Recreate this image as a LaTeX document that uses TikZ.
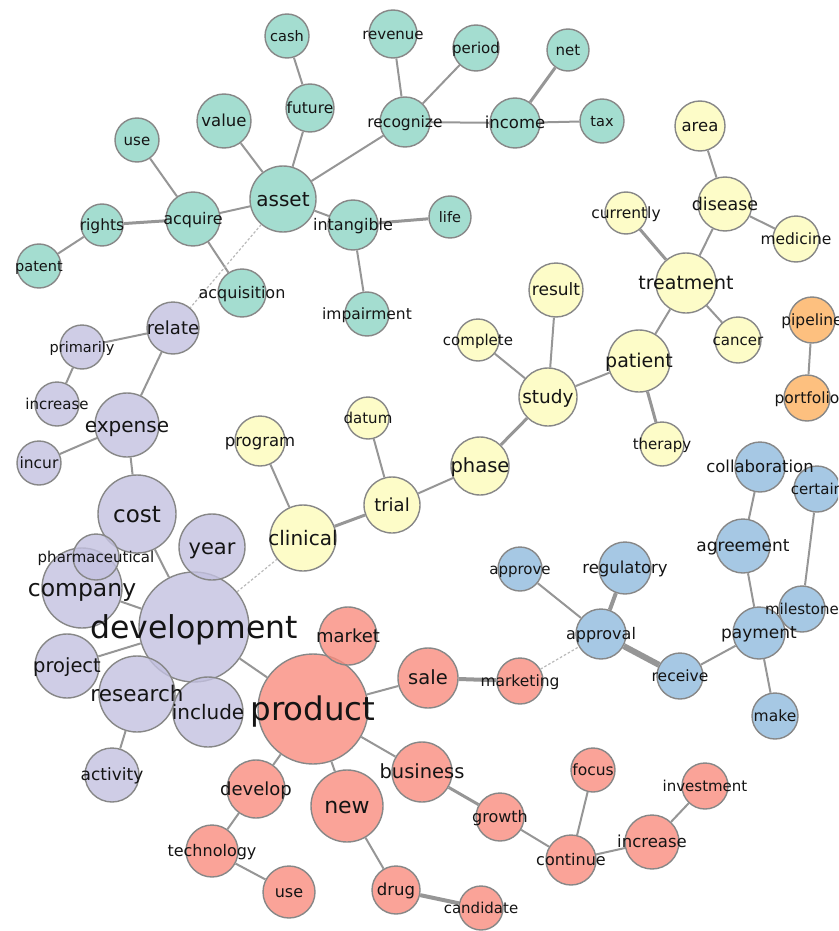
\documentclass[tikz,border=0pt]{standalone}
\usepackage{fontspec}
\setmainfont{DejaVu Sans}
\definecolor{tqc}{RGB}{141,212,196}
\definecolor{lavc}{RGB}{195,193,224}
\definecolor{lemc}{RGB}{252,251,186}
\definecolor{salc}{RGB}{249,140,126}
\definecolor{skyc}{RGB}{144,186,221}
\definecolor{ambc}{RGB}{252,176,95}
\definecolor{rimc}{RGB}{135,135,135}
\definecolor{edgec}{RGB}{150,150,150}
\definecolor{dashc}{RGB}{185,185,185}
\definecolor{txtc}{RGB}{20,20,20}

\begin{document}
\begin{tikzpicture}[x=1pt,y=-1pt,
  every node/.style={inner sep=0pt},
  bub/.style={circle,draw=rimc,line width=1.4pt,fill opacity=0.8,minimum size=2*#1},
  tq/.style={bub=#1,fill=tqc},
  lav/.style={bub=#1,fill=lavc},
  lem/.style={bub=#1,fill=lemc},
  sal/.style={bub=#1,fill=salc},
  sky/.style={bub=#1,fill=skyc},
  amb/.style={bub=#1,fill=ambc},
  lab/.style={font=\fontsize{#1}{#1}\selectfont,anchor=base,yshift=-0.35*#1,text=txtc},
  edge/.style={draw=edgec,line width=2pt},
  heavy/.style={draw=edgec,line width=3pt},
  heavier/.style={draw=edgec,line width=4pt},
  weak/.style={draw=dashc,line width=1.2pt,dash pattern=on 2.5pt off 2pt}]
\clip (0,0) rectangle (838,931);

% asset group
\node[tq=22] (cash) at (287,36) {};
\node[tq=24] (revenue) at (393,34) {};
\node[tq=23] (period) at (476,48) {};
\node[tq=21] (net) at (568,50) {};
\node[tq=24] (future) at (310,108) {};
\node[tq=25] (recognize) at (405,122) {};
\node[tq=25] (income) at (515,123) {};
\node[tq=22] (tax) at (602,121) {};
\node[tq=27] (value) at (224,121) {};
\node[tq=22] (use-a) at (137,140) {};
\node[tq=33] (asset) at (283,199) {};
\node[tq=27] (acquire) at (193,219) {};
\node[tq=21] (rights) at (102,225) {};
\node[tq=22] (patent) at (39,266) {};
\node[tq=25] (intangible) at (353,225) {};
\node[tq=21] (life) at (450,217) {};
\node[tq=24] (acquisition) at (242,293) {};
\node[tq=22] (impairment) at (367,314) {};

% development group
\node[lav=26] (relate) at (173,328) {};
\node[lav=22] (primarily) at (82,347) {};
\node[lav=22] (incr-exp) at (57,404) {};
\node[lav=32] (expense) at (127,425) {};
\node[lav=22] (incur) at (39,463) {};
\node[lav=39] (cost) at (137,514) {};
\node[lav=40] (company) at (82,588) {};
\node[lav=23] (pharma) at (96,557) {};
\node[lav=55] (development) at (194,627) {};
\node[lav=33] (year) at (212,547) {};
\node[lav=32] (project) at (67,666) {};
\node[lav=38] (research) at (137,694) {};
\node[lav=35] (include) at (208,712) {};
\node[lav=27] (activity) at (112,775) {};

% clinical group
\node[lem=25] (program) at (260,441) {};
\node[lem=21] (datum) at (368,418) {};
\node[lem=28] (trial) at (392,505) {};
\node[lem=33] (clinical) at (303,538) {};
\node[lem=29] (phase) at (480,466) {};
\node[lem=29] (study) at (548,397) {};
\node[lem=21] (complete) at (478,340) {};
\node[lem=27] (result) at (556,290) {};
\node[lem=31] (patient) at (639,361) {};
\node[lem=22] (therapy) at (662,444) {};
\node[lem=30] (treatment) at (686,283) {};
\node[lem=21] (currently) at (626,213) {};
\node[lem=27] (disease) at (725,204) {};
\node[lem=25] (area) at (700,126) {};
\node[lem=23] (medicine) at (796,239) {};
\node[lem=23] (cancer) at (738,340) {};

% pipeline group
\node[amb=23] (pipeline) at (812,320) {};
\node[amb=23] (portfolio) at (807,398) {};

% approval group
\node[sky=22] (approve) at (520,569) {};
\node[sky=26] (regulatory) at (625,568) {};
\node[sky=25] (approval) at (601,634) {};
\node[sky=23] (receive) at (680,676) {};
\node[sky=26] (payment) at (759,633) {};
\node[sky=23] (milestone) at (802,609) {};
\node[sky=23] (make) at (775,716) {};
\node[sky=27] (agreement) at (743,546) {};
\node[sky=25] (collaboration) at (760,467) {};
\node[sky=23] (certain) at (817,489) {};

% product group
\node[sal=55] (product) at (313,709) {};
\node[sal=29] (market) at (348,636) {};
\node[sal=30] (sale) at (428,678) {};
\node[sal=23] (marketing) at (520,681) {};
\node[sal=30] (business) at (422,772) {};
\node[sal=29] (develop) at (256,789) {};
\node[sal=36] (new) at (347,806) {};
\node[sal=26] (technology) at (212,851) {};
\node[sal=26] (use-t) at (289,892) {};
\node[sal=24] (drug) at (396,890) {};
\node[sal=22] (candidate) at (481,908) {};
\node[sal=24] (growth) at (500,817) {};
\node[sal=25] (continue) at (571,860) {};
\node[sal=22] (focus) at (593,770) {};
\node[sal=27] (incr-inv) at (652,842) {};
\node[sal=23] (investment) at (705,786) {};

% links
\draw[edge] (cash) -- (future);
\draw[edge] (future) -- (asset);
\draw[edge] (value) -- (asset);
\draw[edge] (asset) -- (recognize);
\draw[edge] (revenue) -- (recognize);
\draw[edge] (period) -- (recognize);
\draw[edge] (recognize) -- (income);
\draw[heavy] (income) -- (net);
\draw[edge] (income) -- (tax);
\draw[edge] (use-a) -- (acquire);
\draw[heavy] (rights) -- (acquire);
\draw[edge] (patent) -- (rights);
\draw[edge] (acquire) -- (asset);
\draw[edge] (acquire) -- (acquisition);
\draw[edge] (asset) -- (intangible);
\draw[heavy] (intangible) -- (life);
\draw[edge] (intangible) -- (impairment);
\draw[weak] (asset) -- (relate);

\draw[edge] (relate) -- (primarily);
\draw[edge] (relate) -- (expense);
\draw[edge] (primarily) -- (incr-exp);
\draw[edge] (expense) -- (incur);
\draw[edge] (expense) -- (cost);
\draw[edge] (cost) -- (development);
\draw[edge] (company) -- (development);
\draw[edge] (project) -- (development);
\draw[edge] (research) -- (activity);
\draw[edge] (development) -- (product);
\draw[weak] (development) -- (clinical);

\draw[edge] (program) -- (clinical);
\draw[heavy] (clinical) -- (trial);
\draw[edge] (trial) -- (datum);
\draw[edge] (trial) -- (phase);
\draw[heavy] (phase) -- (study);
\draw[edge] (study) -- (complete);
\draw[edge] (study) -- (result);
\draw[edge] (study) -- (patient);
\draw[heavy] (patient) -- (therapy);
\draw[edge] (patient) -- (treatment);
\draw[heavy] (treatment) -- (currently);
\draw[edge] (treatment) -- (disease);
\draw[edge] (treatment) -- (cancer);
\draw[edge] (disease) -- (area);
\draw[edge] (disease) -- (medicine);

\draw[edge] (pipeline) -- (portfolio);

\draw[edge] (approve) -- (approval);
\draw[heavier] (regulatory) -- (approval);
\draw[draw=edgec,line width=6pt] (approval) -- (receive);
\draw[edge] (receive) -- (payment);
\draw[edge] (payment) -- (agreement);
\draw[edge] (agreement) -- (collaboration);
\draw[edge] (payment) -- (make);
\draw[edge] (milestone) -- (certain);
\draw[weak] (marketing) -- (approval);

\draw[edge] (product) -- (sale);
\draw[heavier] (sale) -- (marketing);
\draw[edge] (product) -- (business);
\draw[edge] (product) -- (develop);
\draw[edge] (product) -- (new);
\draw[edge] (develop) -- (technology);
\draw[edge] (technology) -- (use-t);
\draw[edge] (new) -- (drug);
\draw[heavier] (drug) -- (candidate);
\draw[heavy] (business) -- (growth);
\draw[edge] (growth) -- (continue);
\draw[edge] (continue) -- (focus);
\draw[edge] (continue) -- (incr-inv);
\draw[edge] (incr-inv) -- (investment);

% words
\node[lab=14.5] (t-cash) at (cash) {cash};
\node[lab=15] (t-revenue) at (revenue) {revenue};
\node[lab=15] (t-period) at (period) {period};
\node[lab=15] (t-net) at (net) {net};
\node[lab=15.5] (t-future) at (future) {future};
\node[lab=15.5] (t-recognize) at (recognize) {recognize};
\node[lab=16.5] (t-income) at (income) {income};
\node[lab=14.5] (t-tax) at (tax) {tax};
\node[lab=16.5] (t-value) at (value) {value};
\node[lab=15] (t-use-a) at (use-a) {use};
\node[lab=20] (t-asset) at (asset) {asset};
\node[lab=16] (t-acquire) at (acquire) {acquire};
\node[lab=15.5] (t-rights) at (rights) {rights};
\node[lab=14.5] (t-patent) at (patent) {patent};
\node[lab=16] (t-intangible) at (intangible) {intangible};
\node[lab=14.5] (t-life) at (life) {life};
\node[lab=16] (t-acquisition) at (acquisition) {acquisition};
\node[lab=15.5] (t-impairment) at (impairment) {impairment};

\node[lab=18] (t-relate) at (relate) {relate};
\node[lab=14.5] (t-primarily) at (primarily) {primarily};
\node[lab=15] (t-incr-exp) at (incr-exp) {increase};
\node[lab=20] (t-expense) at (expense) {expense};
\node[lab=15.5] (t-incur) at (incur) {incur};
\node[lab=23] (t-cost) at (cost) {cost};
\node[lab=21] (t-year) at (year) {year};
\node[lab=15] (t-pharma) at (pharma) {pharmaceutical};
\node[lab=23.5] (t-company) at (company) {company};
\node[lab=31.5] (t-development) at (development) {development};
\node[lab=19.5] (t-project) at (project) {project};
\node[lab=21.5] (t-research) at (research) {research};
\node[lab=20] (t-include) at (include) {include};
\node[lab=17] (t-activity) at (activity) {activity};

\node[lab=16.5] (t-program) at (program) {program};
\node[lab=15] (t-datum) at (datum) {datum};
\node[lab=18] (t-trial) at (trial) {trial};
\node[lab=20] (t-clinical) at (clinical) {clinical};
\node[lab=19.5] (t-phase) at (phase) {phase};
\node[lab=18.5] (t-study) at (study) {study};
\node[lab=15] (t-complete) at (complete) {complete};
\node[lab=17] (t-result) at (result) {result};
\node[lab=19] (t-patient) at (patient) {patient};
\node[lab=15] (t-therapy) at (therapy) {therapy};
\node[lab=19] (t-treatment) at (treatment) {treatment};
\node[lab=15.5] (t-currently) at (currently) {currently};
\node[lab=17.5] (t-disease) at (disease) {disease};
\node[lab=16.5] (t-area) at (area) {area};
\node[lab=15.5] (t-medicine) at (medicine) {medicine};
\node[lab=15] (t-cancer) at (cancer) {cancer};

\node[lab=15.5] (t-pipeline) at (pipeline) {pipeline};
\node[lab=15.5] (t-portfolio) at (portfolio) {portfolio};

\node[lab=15] (t-approve) at (approve) {approve};
\node[lab=16.5] (t-regulatory) at (regulatory) {regulatory};
\node[lab=16] (t-approval) at (approval) {approval};
\node[lab=15.5] (t-receive) at (receive) {receive};
\node[lab=17] (t-payment) at (payment) {payment};
\node[lab=15] (t-milestone) at (milestone) {milestone};
\node[lab=15.5] (t-make) at (make) {make};
\node[lab=17] (t-agreement) at (agreement) {agreement};
\node[lab=16.5] (t-collaboration) at (collaboration) {collaboration};
\node[lab=15] (t-certain) at (certain) {certain};

\node[lab=32.5] (t-product) at (product) {product};
\node[lab=18] (t-market) at (market) {market};
\node[lab=19.5] (t-sale) at (sale) {sale};
\node[lab=15.5] (t-marketing) at (marketing) {marketing};
\node[lab=19.5] (t-business) at (business) {business};
\node[lab=18] (t-develop) at (develop) {develop};
\node[lab=22] (t-new) at (new) {new};
\node[lab=16] (t-technology) at (technology) {technology};
\node[lab=16] (t-use-t) at (use-t) {use};
\node[lab=16.5] (t-drug) at (drug) {drug};
\node[lab=15] (t-candidate) at (candidate) {candidate};
\node[lab=16] (t-growth) at (growth) {growth};
\node[lab=16] (t-continue) at (continue) {continue};
\node[lab=15.5] (t-focus) at (focus) {focus};
\node[lab=16.5] (t-incr-inv) at (incr-inv) {increase};
\node[lab=15] (t-investment) at (investment) {investment};
\end{tikzpicture}
\end{document}
